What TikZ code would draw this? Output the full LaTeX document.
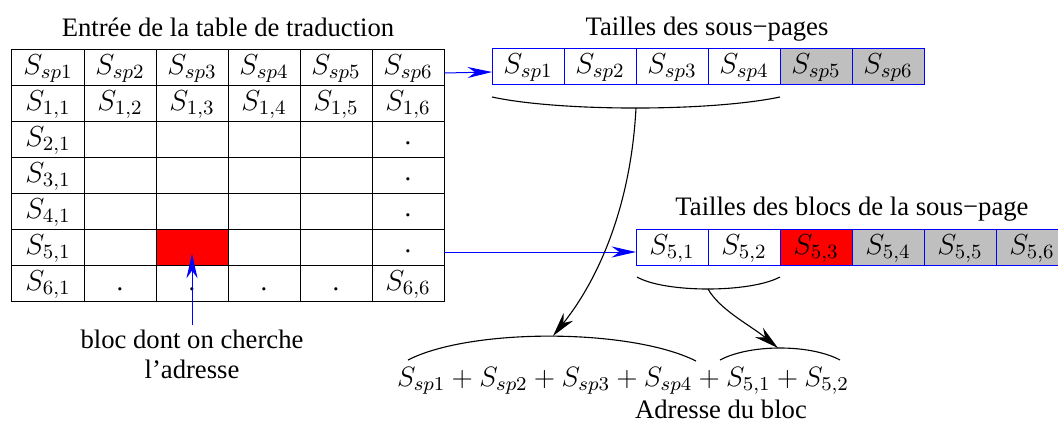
\RequirePackage{fix-cm}
\documentclass[12pt,tikz,border=0pt]{standalone}
\usepackage{fontspec}
\setmainfont{Liberation Serif}
\usetikzlibrary{arrows.meta}
\definecolor{cellgray}{gray}{0.75}
\newcommand{\mth}[1]{{\fontsize{13}{15}\selectfont$#1$}}
\newcommand{\mthf}[1]{{\fontsize{12.6}{15}\selectfont$#1$}}
\tikzset{
  cell/.style={draw, line width=0.45pt, minimum width=32.4pt, minimum height=16.2pt,
    inner sep=0pt, outer sep=0pt, text height=8.3pt, text depth=1.6pt},
  bcell/.style={cell, draw=blue},
  gcell/.style={bcell, fill=cellgray},
  rcell/.style={bcell, fill=red},
  dotcell/.style={cell, text height=8.3pt, text depth=3.2pt},
  title/.style={anchor=base, inner sep=0pt},
  bluearrow/.style={draw=blue, line width=0.45pt, -{Stealth[length=11pt,width=5pt,inset=3.5pt]}},
  blackarrow/.style={line width=0.5pt, -{Stealth[length=11pt,width=5.5pt,inset=3.5pt]}},
  brace/.style={line width=0.5pt}
}
\begin{document}
\begin{tikzpicture}[x=0.45pt, y=-0.45pt]
\clip (0,0) rectangle (1058,422);
\useasboundingbox (0,0) rectangle (1058,422);

% titles
\node[title] (ttab) at (228,36) {Entrée de la table de traduction};
\node[title] (tsp) at (707,35) {Tailles des sous−pages};
\node[title] (tbl) at (852,215) {Tailles des blocs de la sous−page};

% table
\foreach \c/\x in {1/48,2/120,3/192,4/264,5/336,6/408}{
  \foreach \r/\y in {1/67,2/103,3/139,4/175,5/211,6/247,7/283}{
    \node[cell] (t\r\c) at (\x,\y) {};
  }
}
\node[cell, fill=red] (t63) at (192,247) {};
\foreach \c in {1,...,6}{
  \node[cell] at (t1\c) {\mth{S_{sp\c}}};
  \node[cell] at (t2\c) {\mth{S_{1,\c}}};
}
\node at (t31) [cell] {\mth{S_{2,1}}};
\node at (t41) [cell] {\mth{S_{3,1}}};
\node at (t51) [cell] {\mth{S_{4,1}}};
\node at (t61) [cell] {\mth{S_{5,1}}};
\node at (t71) [cell] {\mth{S_{6,1}}};
\foreach \r in {3,4,5,6}{
  \node[dotcell] at (t\r6) {.};
}
\foreach \c in {2,3,4,5}{
  \node[cell] at (t7\c) {.};
}
\node[cell] at (t76) {\mth{S_{6,6}}};

% top array
\node[bcell] (a1) at (528,66) {\mth{S_{sp1}}};
\node[bcell] (a2) at (600,66) {\mth{S_{sp2}}};
\node[bcell] (a3) at (672,66) {\mth{S_{sp3}}};
\node[bcell] (a4) at (744,66) {\mth{S_{sp4}}};
\node[gcell] (a5) at (816,66) {\mth{S_{sp5}}};
\node[gcell] (a6) at (888,66) {\mth{S_{sp6}}};

% block array
\node[bcell] (b1) at (672,247) {\mth{S_{5,1}}};
\node[bcell] (b2) at (744,247) {\mth{S_{5,2}}};
\node[rcell] (b3) at (816,247) {\mth{S_{5,3}}};
\node[gcell] (b4) at (888,247) {\mth{S_{5,4}}};
\node[gcell] (b5) at (960,247) {\mth{S_{5,5}}};
\node[gcell] (b6) at (1032,247) {\mth{S_{5,6}}};

% blue arrows
\draw[bluearrow] ([yshift=-2.7pt]t16.east) -- ([yshift=-2.7pt]a1.west);
\draw[bluearrow] ([yshift=-2.25pt]t66.east) -- ([yshift=-2.25pt]b1.west);

% label
\node[align=center, inner sep=0pt, anchor=base] (lbl) at (192,378)
  {bloc dont on cherche\\[-1pt]l’adresse};
\coordinate (lbltop) at (192,325);
\draw[bluearrow] (lbltop) -- ([yshift=5pt]t63.south);

% formula
\node[anchor=base, inner sep=0pt] (f) at (623,386)
  {\mthf{S_{sp1}+S_{sp2}+S_{sp3}+S_{sp4}+S_{5,1}+S_{5,2}}};
\node[title] (addr) at (721,418) {Adresse du bloc};

% braces
\coordinate (br1a) at (492,97);
\coordinate (br1m) at (636,108);
\coordinate (br1b) at (780,97);
\draw[brace] (br1a) .. controls (560,111.7) and (710,111.7) .. (br1b);
\coordinate (br2a) at (637,277);
\coordinate (br2m) at (708,289);
\coordinate (br2b) at (780,277);
\draw[brace] (br2a) .. controls (665,293) and (750,293) .. (br2b);

\coordinate (arc1a) at (408,360);
\coordinate (arc1m) at (553,336);
\coordinate (arc1b) at (696,361);
\draw[brace] (arc1a) .. controls (470,328) and (630,328) .. (arc1b);
\coordinate (arc2a) at (720,360);
\coordinate (arc2m) at (778,348);
\coordinate (arc2b) at (840,360);
\draw[brace] (arc2a) .. controls (750,344) and (810,344) .. (arc2b);

% black arrows
\draw[blackarrow] (br1m) .. controls (630,220) and (590,290) .. (arc1m);
\draw[blackarrow] (br2m) .. controls (720,310) and (750,325) .. (arc2m);
\end{tikzpicture}
\end{document}
